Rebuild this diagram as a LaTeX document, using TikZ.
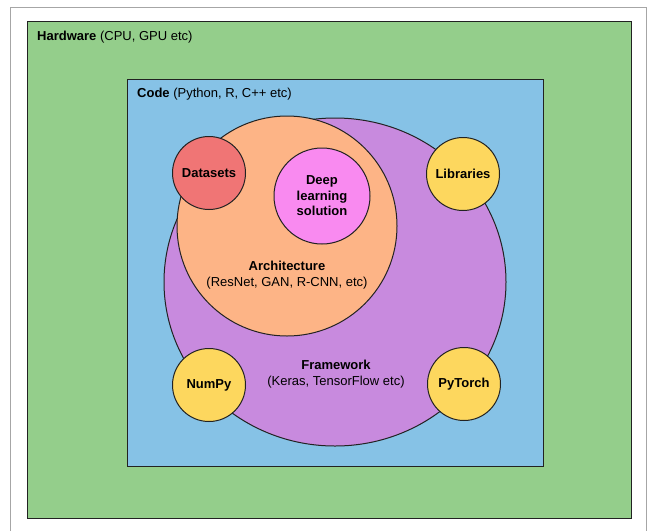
\documentclass[tikz,border=0pt]{standalone}
\usepackage{fontspec}
\setmainfont{Liberation Sans}
\usepackage{xcolor}
\usetikzlibrary{shapes.geometric}

\definecolor{hwgreen}{HTML}{94CE8B}
\definecolor{codeblue}{HTML}{86C2E6}
\definecolor{fwpurple}{HTML}{C88ADE}
\definecolor{archorange}{HTML}{FDB486}
\definecolor{datared}{HTML}{F07575}
\definecolor{dlpink}{HTML}{F98AF0}
\definecolor{libyellow}{HTML}{FDD75E}
\definecolor{edge}{HTML}{222222}

\begin{document}
\begin{tikzpicture}[
  x=1pt, y=-1pt,
  font=\fontsize{13}{15.5}\selectfont,
  layer/.style={draw=edge, line width=1pt},
  blob/.style={circle, draw=edge, line width=1pt, align=center, inner sep=0pt, font=\fontsize{13}{15.5}\selectfont\bfseries},
  tool/.style={blob, fill=libyellow, minimum size=73pt},
  tag/.style={anchor=base west, inner sep=0pt}
]
\useasboundingbox (0,0) rectangle (647,531);

% page frame
\draw[gray!70, line width=1pt] (10,531) -- (10,7) -- (646,7) -- (646,531);

% hardware and code layers
\node[layer, fill=hwgreen, rectangle, minimum width=604pt, minimum height=497pt, anchor=north west] (hw) at (27,21) {};
\node[tag] (hwlbl) at (37,40) {\textbf{Hardware} (CPU, GPU etc)};
\node[layer, fill=codeblue, rectangle, minimum width=416pt, minimum height=387pt, anchor=north west] (code) at (127,79) {};
\node[tag] (codelbl) at (137,97) {\textbf{Code} (Python, R, C++ etc)};

% framework and architecture
\node[layer, fill=fwpurple, ellipse, minimum width=342pt, minimum height=328pt] (fw) at (335,282) {};
\node[align=center] (fwlbl) at (336,374) {\textbf{Framework}\\(Keras, TensorFlow etc)};
\node[layer, fill=archorange, circle, minimum size=220pt] (arch) at (287,226) {};
\node[align=center] (archlbl) at (287,275) {\textbf{Architecture}\\(ResNet, GAN, R-CNN, etc)};

% inner pieces
\node[blob, fill=datared, minimum size=73pt] (data) at (209,173) {Datasets};
\node[blob, fill=dlpink, minimum size=96pt] (dl) at (322,196) {Deep\\learning\\solution};
\node[tool] (libs) at (463,174) {Libraries};
\node[tool] (numpy) at (209,385) {NumPy};
\node[tool] (torch) at (464,384) {PyTorch};
\end{tikzpicture}
\end{document}
